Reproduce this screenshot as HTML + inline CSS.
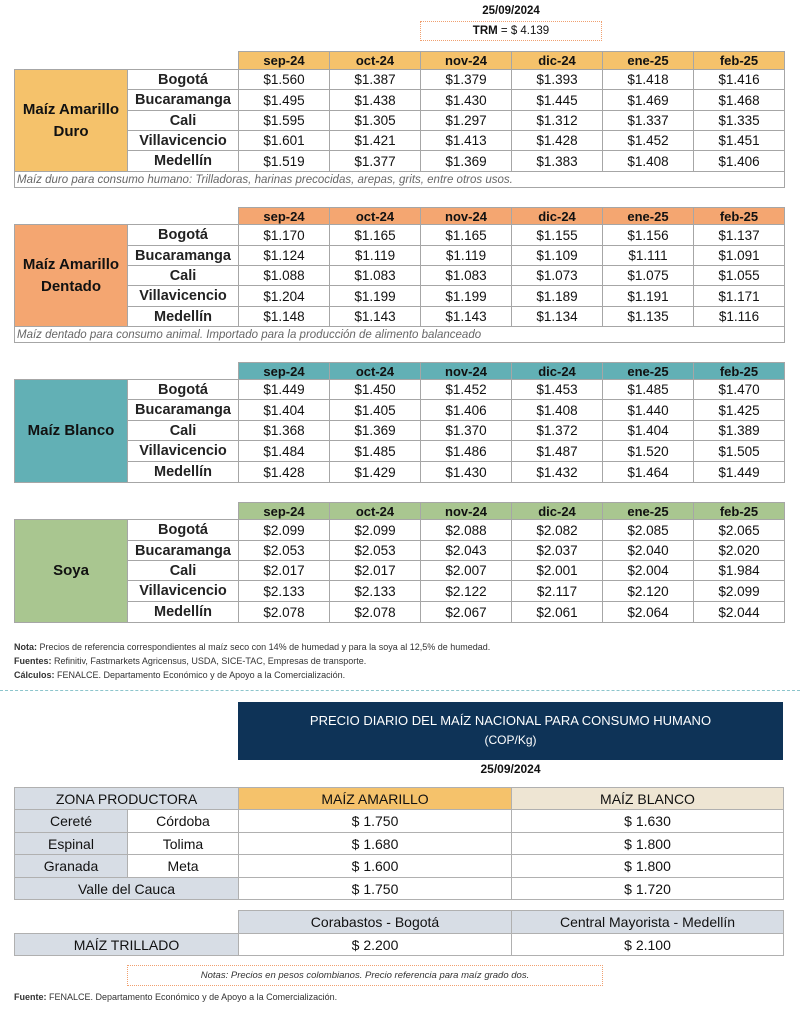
<!DOCTYPE html>
<html><head><meta charset="utf-8">
<style>
*{margin:0;padding:0;box-sizing:border-box}
body{width:800px;height:1012px;background:#fff;position:relative;font-family:"Liberation Sans",sans-serif;color:#111;overflow:hidden}
.a{position:absolute}
table{border-collapse:collapse;table-layout:fixed;position:absolute;left:14px;width:770px}
td{border:1px solid #a6a6a6;text-align:center;font-size:13.5px;padding:0;white-space:nowrap;overflow:hidden}
td.c{font-size:14.5px;font-weight:bold;color:#222}
td.l{font-size:15px;font-weight:bold;line-height:22px}
td.e{border:none}
tr.h td{font-size:13px;font-weight:bold}
td.n{text-align:left;font-style:italic;color:#666;font-size:11.5px;padding-left:2px}
.note{font-size:9px;color:#333}
.note b{font-weight:bold}
.t2 td{font-size:14px;border:1px solid #b0b0b0}
.g{background:#d7dde5}
</style></head><body>
<div class="a" style="left:420px;top:5px;width:182px;text-align:center;font-size:11.5px;font-weight:bold">25/09/2024</div>
<div class="a" style="left:420px;top:21px;width:182px;height:20px;border:1px dotted #f0a070;text-align:center;font-size:11.5px;line-height:18px"><b>TRM</b> = $ 4.139</div>

<table style="top:51px">
<colgroup><col style="width:113px"><col style="width:111px"><col style="width:91px"><col style="width:91px"><col style="width:91px"><col style="width:91px"><col style="width:91px"><col style="width:91px"></colgroup>
<tr class="h" style="height:18px"><td class="e" colspan="2"></td><td style="background:#f5c26b">sep-24</td><td style="background:#f5c26b">oct-24</td><td style="background:#f5c26b">nov-24</td><td style="background:#f5c26b">dic-24</td><td style="background:#f5c26b">ene-25</td><td style="background:#f5c26b">feb-25</td></tr>
<tr style="height:20px"><td class="l" rowspan="5" style="background:#f5c26b">Maíz Amarillo<br>Duro</td><td class="c">Bogotá</td><td>$1.560</td><td>$1.387</td><td>$1.379</td><td>$1.393</td><td>$1.418</td><td>$1.416</td></tr>
<tr style="height:21px"><td class="c">Bucaramanga</td><td>$1.495</td><td>$1.438</td><td>$1.430</td><td>$1.445</td><td>$1.469</td><td>$1.468</td></tr>
<tr style="height:20px"><td class="c">Cali</td><td>$1.595</td><td>$1.305</td><td>$1.297</td><td>$1.312</td><td>$1.337</td><td>$1.335</td></tr>
<tr style="height:20px"><td class="c">Villavicencio</td><td>$1.601</td><td>$1.421</td><td>$1.413</td><td>$1.428</td><td>$1.452</td><td>$1.451</td></tr>
<tr style="height:21px"><td class="c">Medellín</td><td>$1.519</td><td>$1.377</td><td>$1.369</td><td>$1.383</td><td>$1.408</td><td>$1.406</td></tr>
<tr style="height:16px"><td class="n" colspan="8">Maíz duro para consumo humano: Trilladoras, harinas precocidas, arepas, grits, entre otros usos.</td></tr>
</table>

<table style="top:207px">
<colgroup><col style="width:113px"><col style="width:111px"><col style="width:91px"><col style="width:91px"><col style="width:91px"><col style="width:91px"><col style="width:91px"><col style="width:91px"></colgroup>
<tr class="h" style="height:17px"><td class="e" colspan="2"></td><td style="background:#f4a671">sep-24</td><td style="background:#f4a671">oct-24</td><td style="background:#f4a671">nov-24</td><td style="background:#f4a671">dic-24</td><td style="background:#f4a671">ene-25</td><td style="background:#f4a671">feb-25</td></tr>
<tr style="height:21px"><td class="l" rowspan="5" style="background:#f4a671">Maíz Amarillo<br>Dentado</td><td class="c">Bogotá</td><td>$1.170</td><td>$1.165</td><td>$1.165</td><td>$1.155</td><td>$1.156</td><td>$1.137</td></tr>
<tr style="height:20px"><td class="c">Bucaramanga</td><td>$1.124</td><td>$1.119</td><td>$1.119</td><td>$1.109</td><td>$1.111</td><td>$1.091</td></tr>
<tr style="height:20px"><td class="c">Cali</td><td>$1.088</td><td>$1.083</td><td>$1.083</td><td>$1.073</td><td>$1.075</td><td>$1.055</td></tr>
<tr style="height:21px"><td class="c">Villavicencio</td><td>$1.204</td><td>$1.199</td><td>$1.199</td><td>$1.189</td><td>$1.191</td><td>$1.171</td></tr>
<tr style="height:20px"><td class="c">Medellín</td><td>$1.148</td><td>$1.143</td><td>$1.143</td><td>$1.134</td><td>$1.135</td><td>$1.116</td></tr>
<tr style="height:16px"><td class="n" colspan="8">Maíz dentado para consumo animal. Importado para la producción de alimento balanceado</td></tr>
</table>

<table style="top:362px">
<colgroup><col style="width:113px"><col style="width:111px"><col style="width:91px"><col style="width:91px"><col style="width:91px"><col style="width:91px"><col style="width:91px"><col style="width:91px"></colgroup>
<tr class="h" style="height:17px"><td class="e" colspan="2"></td><td style="background:#62b0b5">sep-24</td><td style="background:#62b0b5">oct-24</td><td style="background:#62b0b5">nov-24</td><td style="background:#62b0b5">dic-24</td><td style="background:#62b0b5">ene-25</td><td style="background:#62b0b5">feb-25</td></tr>
<tr style="height:20px"><td class="l" rowspan="5" style="background:#62b0b5">Maíz Blanco</td><td class="c">Bogotá</td><td>$1.449</td><td>$1.450</td><td>$1.452</td><td>$1.453</td><td>$1.485</td><td>$1.470</td></tr>
<tr style="height:21px"><td class="c">Bucaramanga</td><td>$1.404</td><td>$1.405</td><td>$1.406</td><td>$1.408</td><td>$1.440</td><td>$1.425</td></tr>
<tr style="height:20px"><td class="c">Cali</td><td>$1.368</td><td>$1.369</td><td>$1.370</td><td>$1.372</td><td>$1.404</td><td>$1.389</td></tr>
<tr style="height:21px"><td class="c">Villavicencio</td><td>$1.484</td><td>$1.485</td><td>$1.486</td><td>$1.487</td><td>$1.520</td><td>$1.505</td></tr>
<tr style="height:21px"><td class="c">Medellín</td><td>$1.428</td><td>$1.429</td><td>$1.430</td><td>$1.432</td><td>$1.464</td><td>$1.449</td></tr>
</table>

<table style="top:502px">
<colgroup><col style="width:113px"><col style="width:111px"><col style="width:91px"><col style="width:91px"><col style="width:91px"><col style="width:91px"><col style="width:91px"><col style="width:91px"></colgroup>
<tr class="h" style="height:17px"><td class="e" colspan="2"></td><td style="background:#a9c690">sep-24</td><td style="background:#a9c690">oct-24</td><td style="background:#a9c690">nov-24</td><td style="background:#a9c690">dic-24</td><td style="background:#a9c690">ene-25</td><td style="background:#a9c690">feb-25</td></tr>
<tr style="height:21px"><td class="l" rowspan="5" style="background:#a9c690">Soya</td><td class="c">Bogotá</td><td>$2.099</td><td>$2.099</td><td>$2.088</td><td>$2.082</td><td>$2.085</td><td>$2.065</td></tr>
<tr style="height:20px"><td class="c">Bucaramanga</td><td>$2.053</td><td>$2.053</td><td>$2.043</td><td>$2.037</td><td>$2.040</td><td>$2.020</td></tr>
<tr style="height:20px"><td class="c">Cali</td><td>$2.017</td><td>$2.017</td><td>$2.007</td><td>$2.001</td><td>$2.004</td><td>$1.984</td></tr>
<tr style="height:21px"><td class="c">Villavicencio</td><td>$2.133</td><td>$2.133</td><td>$2.122</td><td>$2.117</td><td>$2.120</td><td>$2.099</td></tr>
<tr style="height:21px"><td class="c">Medellín</td><td>$2.078</td><td>$2.078</td><td>$2.067</td><td>$2.061</td><td>$2.064</td><td>$2.044</td></tr>
</table>

<div class="a note" style="left:14px;top:642px"><b>Nota:</b> Precios de referencia correspondientes al maíz seco con 14% de humedad y para la soya al 12,5% de humedad.</div>
<div class="a note" style="left:14px;top:656px"><b>Fuentes:</b> Refinitiv, Fastmarkets Agricensus, USDA, SICE-TAC, Empresas de transporte.</div>
<div class="a note" style="left:14px;top:670px"><b>Cálculos:</b> FENALCE. Departamento Económico y de Apoyo a la Comercialización.</div>
<div class="a" style="left:0;top:690px;width:800px;border-top:1.5px dashed #8cc5cc"></div>

<div class="a" style="left:238px;top:702px;width:545px;height:58px;background:#0e3357;color:#fff;text-align:center;font-size:13px;line-height:19px;padding-top:9px">PRECIO DIARIO DEL MAÍZ NACIONAL PARA CONSUMO HUMANO<br><span style="font-size:12px">(COP/Kg)</span></div>
<div class="a" style="left:238px;top:762px;width:545px;text-align:center;font-size:12px;font-weight:bold">25/09/2024</div>

<table class="t2" style="top:787px;width:769px">
<colgroup><col style="width:113px"><col style="width:111px"><col style="width:273px"><col style="width:272px"></colgroup>
<tr style="height:22px"><td colspan="2" class="g">ZONA PRODUCTORA</td><td style="background:#f5c26b">MAÍZ AMARILLO</td><td style="background:#eee5d3">MAÍZ BLANCO</td></tr>
<tr style="height:23px"><td class="g">Cereté</td><td>Córdoba</td><td>$ 1.750</td><td>$ 1.630</td></tr>
<tr style="height:22px"><td class="g">Espinal</td><td>Tolima</td><td>$ 1.680</td><td>$ 1.800</td></tr>
<tr style="height:23px"><td class="g">Granada</td><td>Meta</td><td>$ 1.600</td><td>$ 1.800</td></tr>
<tr style="height:22px"><td colspan="2" class="g">Valle del Cauca</td><td>$ 1.750</td><td>$ 1.720</td></tr>
</table>

<table class="t2" style="top:910px;width:769px">
<colgroup><col style="width:224px"><col style="width:273px"><col style="width:272px"></colgroup>
<tr style="height:23px"><td style="border:none;border-bottom:1px solid #b0b0b0"></td><td class="g">Corabastos - Bogotá</td><td class="g">Central Mayorista - Medellín</td></tr>
<tr style="height:22px"><td class="g">MAÍZ TRILLADO</td><td>$ 2.200</td><td>$ 2.100</td></tr>
</table>

<div class="a" style="left:127px;top:965px;width:476px;height:21px;border:1px dotted #f0a070;text-align:center;font-size:9.5px;font-style:italic;color:#333;line-height:19px">Notas: Precios en pesos colombianos. Precio referencia para maíz grado dos.</div>
<div class="a note" style="left:14px;top:992px"><b>Fuente:</b> FENALCE. Departamento Económico y de Apoyo a la Comercialización.</div>
</body></html>
